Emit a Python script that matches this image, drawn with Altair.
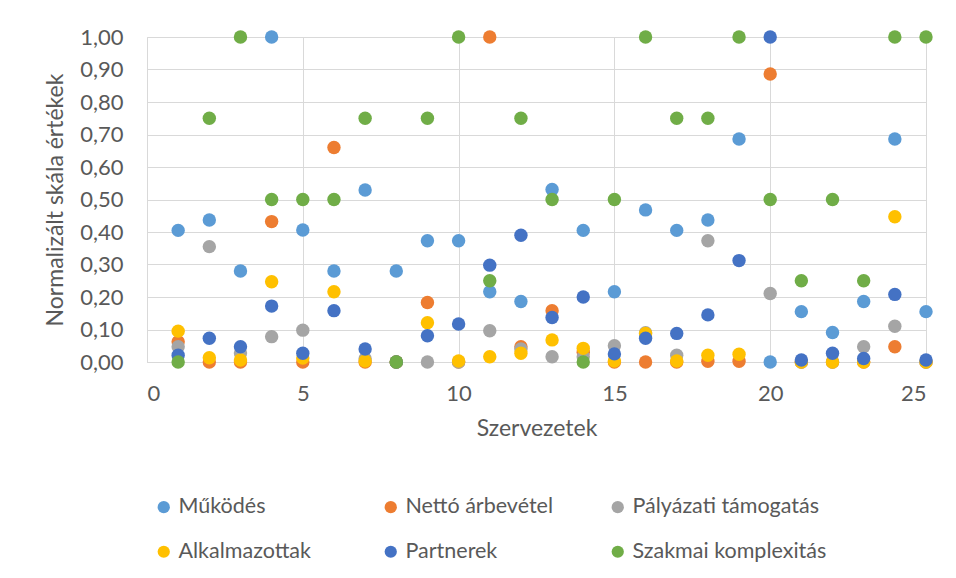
import altair as alt
import pandas as pd

x_vals = list(range(1, 26))

series_names = ["Működés", "Nettó árbevétel", "Pályázati támogatás",
                "Alkalmazottak", "Partnerek", "Szakmai komplexitás"]
series_colors = ["#5B9BD5", "#ED7D31", "#A5A5A5", "#FFC000", "#4472C4", "#70AD47"]

mukodes = [0.405, 0.437, 0.28, 1.0, 0.406, 0.28, 0.529, 0.28, 0.373, 0.373,
           0.216, 0.186, 0.531, 0.405, 0.216, 0.468, 0.405, 0.437, 0.686, 0.0,
           0.155, 0.091, 0.186, 0.686, 0.155]
netto = [0.062, 0.0, 0.0, 0.432, 0.0, 0.66, 0.0, 0.0, 0.183, 0.0,
         1.0, 0.047, 0.158, 0.03, 0.0, 0.0, 0.0, 0.002, 0.002, 0.886,
         0.0, 0.0, 0.0, 0.047, 0.0]
palyazati = [0.047, 0.355, 0.028, 0.078, 0.098, None, 0.01, 0.0, 0.0, 0.0,
             0.096, 0.04, 0.016, 0.016, 0.05, 0.09, 0.021, 0.373, None, 0.211,
             0.0, 0.0, 0.047, 0.11, 0.0]
alkalmazottak = [0.095, 0.013, 0.006, 0.247, 0.012, 0.216, 0.003, 0.0, 0.121, 0.003,
                 0.016, 0.027, 0.068, 0.042, 0.003, 0.088, 0.003, 0.021, 0.024, None,
                 0.0, 0.0, 0.0, 0.447, 0.0]
partnerek = [0.021, 0.073, 0.047, 0.172, 0.027, 0.158, 0.04, 0.0, 0.081, 0.117,
             0.298, 0.39, 0.137, 0.2, 0.025, 0.073, 0.088, 0.145, 0.312, 1.0,
             0.006, 0.027, 0.011, 0.208, 0.006]
szakmai = [0.0, 0.75, 1.0, 0.5, 0.5, 0.5, 0.75, 0.0, 0.75, 1.0,
           0.25, 0.75, 0.5, 0.0, 0.5, 1.0, 0.75, 0.75, 1.0, 0.5,
           0.25, 0.5, 0.25, 1.0, 1.0]

all_series = [mukodes, netto, palyazati, alkalmazottak, partnerek, szakmai]

rows = []
for i, (name, vals) in enumerate(zip(series_names, all_series)):
    for xv, yv in zip(x_vals, vals):
        if yv is None:
            continue
        rows.append({"Szervezet": xv, "Érték": yv, "Sorozat": name, "idx": i})
df = pd.DataFrame(rows)

FONT = "Lato"
TXT = "#595959"
GRID = "#D9D9D9"

chart = alt.Chart(df).mark_circle(size=180, opacity=1).encode(
    x=alt.X("Szervezet:Q",
            scale=alt.Scale(domain=[0, 25], nice=False, zero=False),
            axis=alt.Axis(title="Szervezetek", values=[0, 5, 10, 15, 20, 25],
                          grid=True, gridColor=GRID, domainColor=GRID, ticks=False,
                          labelFontSize=22, labelColor=TXT, labelFont=FONT,
                          labelPadding=21, titleFontSize=23, titleColor=TXT,
                          titleFont=FONT, titleFontWeight="normal", titlePadding=13)),
    y=alt.Y("Érték:Q",
            scale=alt.Scale(domain=[0, 1], nice=False),
            axis=alt.Axis(title="Normalizált skála értékek",
                          values=[i / 10 for i in range(11)],
                          labelExpr="replace(format(datum.value, '.2f'), '.', ',')",
                          grid=True, gridColor=GRID, domain=False, ticks=False,
                          labelFontSize=22, labelColor=TXT, labelFont=FONT,
                          labelPadding=24, titleFontSize=23, titleColor=TXT,
                          titleFont=FONT, titleFontWeight="normal", titlePadding=12)),
    color=alt.Color("Sorozat:N",
                    scale=alt.Scale(domain=series_names, range=series_colors),
                    sort=series_names,
                    legend=alt.Legend(title=None, orient="none", legendX=6, legendY=459,
                                      direction="horizontal",
                                      columns=3, gridAlign="all", columnPadding=7,
                                      rowPadding=22, symbolType="circle", symbolSize=150,
                                      symbolOpacity=1,
                                      labelFontSize=21.5, labelColor=TXT, labelFont=FONT,
                                      labelOffset=4, labelLimit=400)),
    order=alt.Order("idx:Q"),
).properties(
    width=779, height=325,
    autosize=alt.AutoSizeParams(type="none"),
    padding={"left": 139, "top": 29, "right": 20, "bottom": 212},
).configure_view(stroke=None).configure(background="white")

chart.save("out.html", embed_options={"renderer": "svg", "actions": False})
